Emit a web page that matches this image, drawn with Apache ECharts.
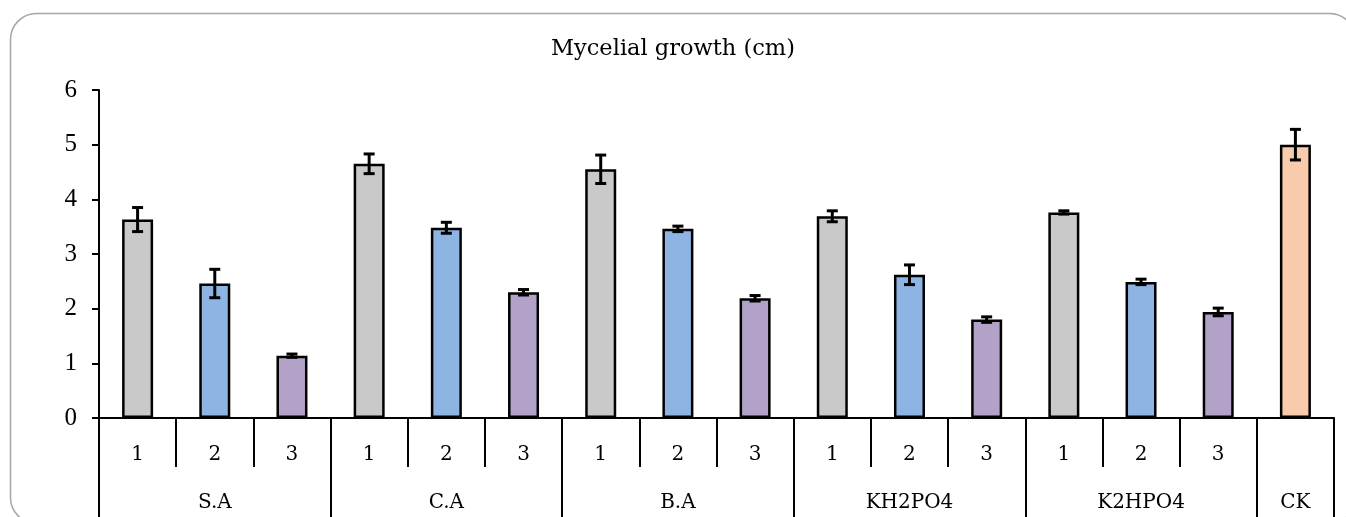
<!DOCTYPE html>
<html>
<head>
  <meta charset="utf-8">
  <title>Mycelial growth</title>
  <script src="https://cdn.jsdelivr.net/npm/echarts@6/dist/echarts.min.js"></script>
  <style>
    html, body { margin: 0; padding: 0; background: #fff; }
    #chart { width: 1346px; height: 517px; }
  </style>
</head>
<body>
  <div id="chart"></div>
  <script>
    // data
    var levels = ['1', '2', '3', '1', '2', '3', '1', '2', '3', '1', '2', '3', '1', '2', '3', ''];
    var groups = ['S.A', 'C.A', 'B.A', 'KH2PO4', 'K2HPO4', 'CK'];
    var groupBounds = [0, 3, 6, 9, 12, 15, 16];
    var growth = [3.63, 2.46, 1.14, 4.65, 3.48, 2.30, 4.55, 3.46, 2.19, 3.69, 2.62, 1.80, 3.76, 2.49, 1.94, 5.00];
    var errors = [0.22, 0.26, 0.03, 0.18, 0.10, 0.05, 0.26, 0.05, 0.05, 0.10, 0.18, 0.05, 0.03, 0.05, 0.07, 0.28];
    var yTicks = [0, 1, 2, 3, 4, 5, 6];

    var levelColors = ['#C9C9C9', '#8EB4E3', '#B3A2C7'];
    var ckColor = '#F8CBAD';
    var serif = '"Liberation Serif", "Times New Roman", serif';
    var wideSerif = '"DejaVu Serif", Cambria, serif';

    var groupCenters = [];
    for (var g = 0; g < groups.length; g++) {
      groupCenters.push((groupBounds[g] + groupBounds[g + 1]) / 2);
    }

    var barData = growth.map(function (v, i) {
      return {
        value: v,
        itemStyle: { color: i === 15 ? ckColor : levelColors[i % 3] }
      };
    });

    var errData = growth.map(function (v, i) {
      return [i, v - errors[i], v + errors[i]];
    });

    var chart = echarts.init(document.getElementById('chart'));

    chart.setOption({
      animation: false,
      title: {
        text: 'Mycelial growth (cm)',
        left: 'center',
        top: 33,
        textStyle: { fontFamily: wideSerif, fontSize: 22.5, fontWeight: 'normal', color: '#000' }
      },
      graphic: [{
        type: 'rect',
        shape: { x: 10.5, y: 13.5, width: 1345, height: 510, r: 26 },
        style: { fill: 'none', stroke: '#A6A6A6', lineWidth: 1.5 },
        silent: true
      }],
      grid: { left: 99, right: 12, top: 90, bottom: 99 },
      xAxis: [{
        type: 'category',
        data: levels,
        axisLine: { lineStyle: { color: '#000', width: 2 } },
        axisTick: { show: true, interval: 0, length: 49, lineStyle: { color: '#000', width: 2 } },
        axisLabel: { interval: 0, margin: 27, fontFamily: wideSerif, fontSize: 20, color: '#000' }
      }, {
        type: 'value',
        min: 0,
        max: 16,
        position: 'bottom',
        axisLine: { show: false },
        splitLine: { show: false },
        axisTick: {
          show: true,
          customValues: groupBounds,
          length: 110,
          lineStyle: { color: '#000', width: 2 }
        },
        axisLabel: {
          show: true,
          customValues: groupCenters,
          margin: 75,
          fontFamily: wideSerif,
          fontSize: 20,
          color: '#000',
          formatter: function (val) {
            var idx = groupCenters.indexOf(val);
            return idx >= 0 ? groups[idx] : '';
          }
        }
      }],
      yAxis: {
        type: 'value',
        min: yTicks[0],
        max: yTicks[yTicks.length - 1],
        interval: 1,
        axisLine: { show: true, lineStyle: { color: '#000', width: 2 } },
        axisTick: { show: true, length: 7, lineStyle: { color: '#000', width: 2 } },
        splitLine: { show: false },
        axisLabel: { margin: 22, fontFamily: serif, fontSize: 25, color: '#000' }
      },
      series: [{
        type: 'bar',
        data: barData,
        barWidth: 31,
        itemStyle: { borderColor: '#000', borderWidth: 2.5 }
      }, {
        type: 'custom',
        data: errData,
        z: 5,
        renderItem: function (params, api) {
          var x = api.value(0);
          var lo = api.coord([x, api.value(1)]);
          var hi = api.coord([x, api.value(2)]);
          var cap = 5.5;
          var st = { stroke: '#000', lineWidth: 3 };
          return {
            type: 'group',
            children: [
              { type: 'line', shape: { x1: lo[0], y1: lo[1], x2: hi[0], y2: hi[1] }, style: st },
              { type: 'line', shape: { x1: hi[0] - cap, y1: hi[1], x2: hi[0] + cap, y2: hi[1] }, style: st },
              { type: 'line', shape: { x1: lo[0] - cap, y1: lo[1], x2: lo[0] + cap, y2: lo[1] }, style: st }
            ]
          };
        }
      }]
    });
  </script>
</body>
</html>
